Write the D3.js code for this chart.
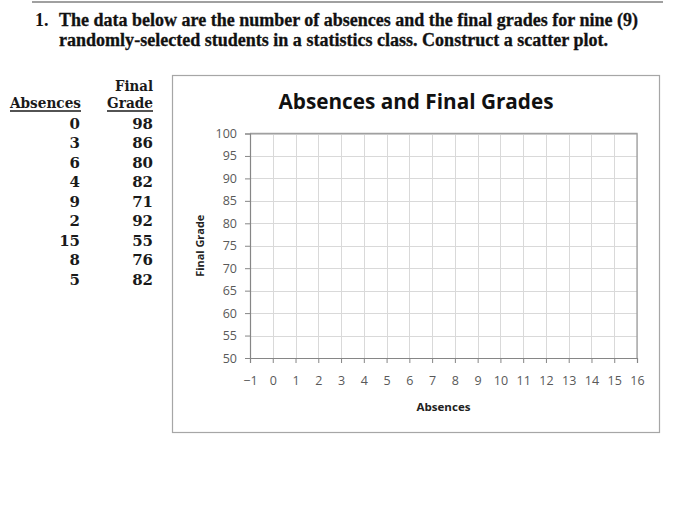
<!DOCTYPE html>
<html>
<head>
<meta charset="utf-8">
<script src="https://cdn.jsdelivr.net/npm/d3@7"></script>
<style>
  body { margin: 0; background: #ffffff; }
</style>
</head>
<body>
<div id="chart"></div>
<script>
const absences = [0, 3, 6, 4, 9, 2, 15, 8, 5];
const finalGrades = [98, 86, 80, 82, 71, 92, 55, 76, 82];

// Axis ticks of the empty scatter grid
const xTickValues = [-1, 0, 1, 2, 3, 4, 5, 6, 7, 8, 9, 10, 11, 12, 13, 14, 15, 16];
const yTickValues = [50, 55, 60, 65, 70, 75, 80, 85, 90, 95, 100];

const questionLines = [
  'The data below are the number of absences and the final grades for nine (9)',
  'randomly-selected students in a statistics class. Construct a scatter plot.',
];

const chartTitle = 'Absences and Final Grades';
const xLabel = 'Absences';
const yLabel = 'Final Grade';

const serif = "'Liberation Serif', 'DejaVu Serif', serif";
const tableFont = "'DejaVu Serif', serif";
const sans = "'Open Sans', 'Noto Sans', sans-serif";

// squeeze a text node to a known width
const fit = (sel, w) =>
  sel.attr('textLength', w).attr('lengthAdjust', 'spacingAndGlyphs');

const drawPage = () => {
  const totalWidth = 700;
  const totalHeight = 521;

  const svg = d3
    .select('#chart')
    .append('svg')
    .attr('width', totalWidth)
    .attr('height', totalHeight)
    .attr('viewBox', `0 0 ${totalWidth} ${totalHeight}`);

  svg
    .append('rect')
    .attr('width', totalWidth)
    .attr('height', totalHeight)
    .attr('fill', '#ffffff');

  // Rule above the question
  svg
    .append('line')
    .attr('x1', 32)
    .attr('x2', 663)
    .attr('y1', 2)
    .attr('y2', 2)
    .attr('stroke', '#a0a0a0')
    .attr('stroke-width', 2);

  // Question text
  svg
    .append('text')
    .attr('x', 35)
    .attr('y', 26)
    .attr('font-family', serif)
    .attr('font-weight', 'bold')
    .attr('font-size', 18)
    .attr('fill', '#111111')
    .text('1.');

  const lineWidths = [579, 549];
  questionLines.forEach((line, i) => {
    svg
      .append('text')
      .attr('x', 59)
      .attr('y', 26 + i * 20)
      .attr('font-family', serif)
      .attr('font-weight', 'bold')
      .attr('font-size', 18)
      .attr('fill', '#111111')
      .attr('stroke', '#111111')
      .attr('stroke-width', 0.3)
      .text(line)
      .call(fit, lineWidths[i]);
  });

  drawTable(svg);
  drawScatterGrid(svg);
};

const drawTable = (svg) => {
  const table = svg
    .append('g')
    .attr('font-family', tableFont)
    .attr('font-weight', 'bold')
    .attr('font-size', 15)
    .attr('fill', '#1a1a1a')
    .attr('text-anchor', 'end');

  // Headers
  table.append('text').attr('x', 153).attr('y', 91).text('Final').call(fit, 38);
  table.append('text').attr('x', 153).attr('y', 108).text('Grade').call(fit, 46);
  table.append('text').attr('x', 81).attr('y', 108).text('Absences').call(fit, 71);

  // Underlines
  [
    [10, 81],
    [107, 153],
  ].forEach(([x1, x2]) => {
    table
      .append('line')
      .attr('x1', x1)
      .attr('x2', x2)
      .attr('y1', 111)
      .attr('y2', 111)
      .attr('stroke', '#1a1a1a')
      .attr('stroke-width', 1.3);
  });

  const rowScale = d3
    .scalePoint()
    .domain(d3.range(absences.length))
    .range([128.5, 285]);

  table
    .selectAll('.abs')
    .data(absences)
    .join('text')
    .attr('class', 'abs')
    .attr('x', 80)
    .attr('y', (d, i) => rowScale(i))
    .text((d) => d);

  table
    .selectAll('.grade')
    .data(finalGrades)
    .join('text')
    .attr('class', 'grade')
    .attr('x', 153)
    .attr('y', (d, i) => rowScale(i))
    .text((d) => d);
};

const drawScatterGrid = (svg) => {
  // Chart frame
  svg
    .append('rect')
    .attr('x', 172.5)
    .attr('y', 75.5)
    .attr('width', 487)
    .attr('height', 357)
    .attr('fill', '#ffffff')
    .attr('stroke', '#a6a6a6')
    .attr('stroke-width', 1.2);

  // Chart title
  svg
    .append('text')
    .attr('x', 416)
    .attr('y', 109)
    .attr('text-anchor', 'middle')
    .attr('font-family', sans)
    .attr('font-weight', 'bold')
    .attr('font-size', 21)
    .attr('fill', '#111111')
    .text(chartTitle)
    .call(fit, 275);

  const plot = { left: 250, right: 637, top: 133.5, bottom: 358 };

  const xScale = d3
    .scaleLinear()
    .domain([xTickValues[0], xTickValues[xTickValues.length - 1]])
    .range([plot.left, plot.right]);

  const yScale = d3
    .scaleLinear()
    .domain([yTickValues[0], yTickValues[yTickValues.length - 1]])
    .range([plot.bottom, plot.top]);

  // Gridlines
  svg
    .append('g')
    .selectAll('line')
    .data(xTickValues.slice(1))
    .join('line')
    .attr('x1', (d) => Math.round(xScale(d)) + 0.5)
    .attr('x2', (d) => Math.round(xScale(d)) + 0.5)
    .attr('y1', plot.top)
    .attr('y2', plot.bottom)
    .attr('stroke', '#d9d9d9');

  svg
    .append('g')
    .selectAll('line')
    .data(yTickValues.slice(1))
    .join('line')
    .attr('x1', plot.left)
    .attr('x2', plot.right)
    .attr('y1', (d) => Math.round(yScale(d)) + 0.5)
    .attr('y2', (d) => Math.round(yScale(d)) + 0.5)
    .attr('stroke', '#d9d9d9');

  // Plot area border (top and right edges show darker)
  svg
    .append('path')
    .attr('d', `M${plot.left},${plot.top} H${plot.right} V${plot.bottom}`)
    .attr('fill', 'none')
    .attr('stroke', '#a0a0a0')
    .attr('stroke-width', 1.3);

  const styleAxis = (g) => {
    g.select('.domain').attr('stroke', '#868686').attr('stroke-width', 1.2);
    g.selectAll('.tick line').attr('stroke', '#868686');
    g.selectAll('text')
      .attr('font-family', sans)
      .attr('font-size', 12.5)
      .attr('fill', '#595959');
  };

  // Render y axis
  svg
    .append('g')
    .attr('transform', `translate(${plot.left}, 0)`)
    .call(d3.axisLeft(yScale).tickValues(yTickValues).tickSize(5).tickPadding(8))
    .call(styleAxis);

  // Render x axis
  svg
    .append('g')
    .attr('transform', `translate(0, ${plot.bottom})`)
    .call(d3.axisBottom(xScale).tickValues(xTickValues).tickSize(5).tickPadding(13))
    .call(styleAxis);

  // Axis labels
  svg
    .append('text')
    .attr('x', (plot.left + plot.right) / 2)
    .attr('y', 411)
    .attr('text-anchor', 'middle')
    .attr('font-family', sans)
    .attr('font-weight', 'bold')
    .attr('font-size', 11)
    .attr('fill', '#222222')
    .text(xLabel)
    .call(fit, 54);

  svg
    .append('text')
    .attr('transform', `translate(204, ${(plot.top + plot.bottom) / 2}) rotate(-90)`)
    .attr('text-anchor', 'middle')
    .attr('font-family', sans)
    .attr('font-weight', 'bold')
    .attr('font-size', 11)
    .attr('fill', '#222222')
    .text(yLabel)
    .call(fit, 62);
};

drawPage();
</script>
</body>
</html>
